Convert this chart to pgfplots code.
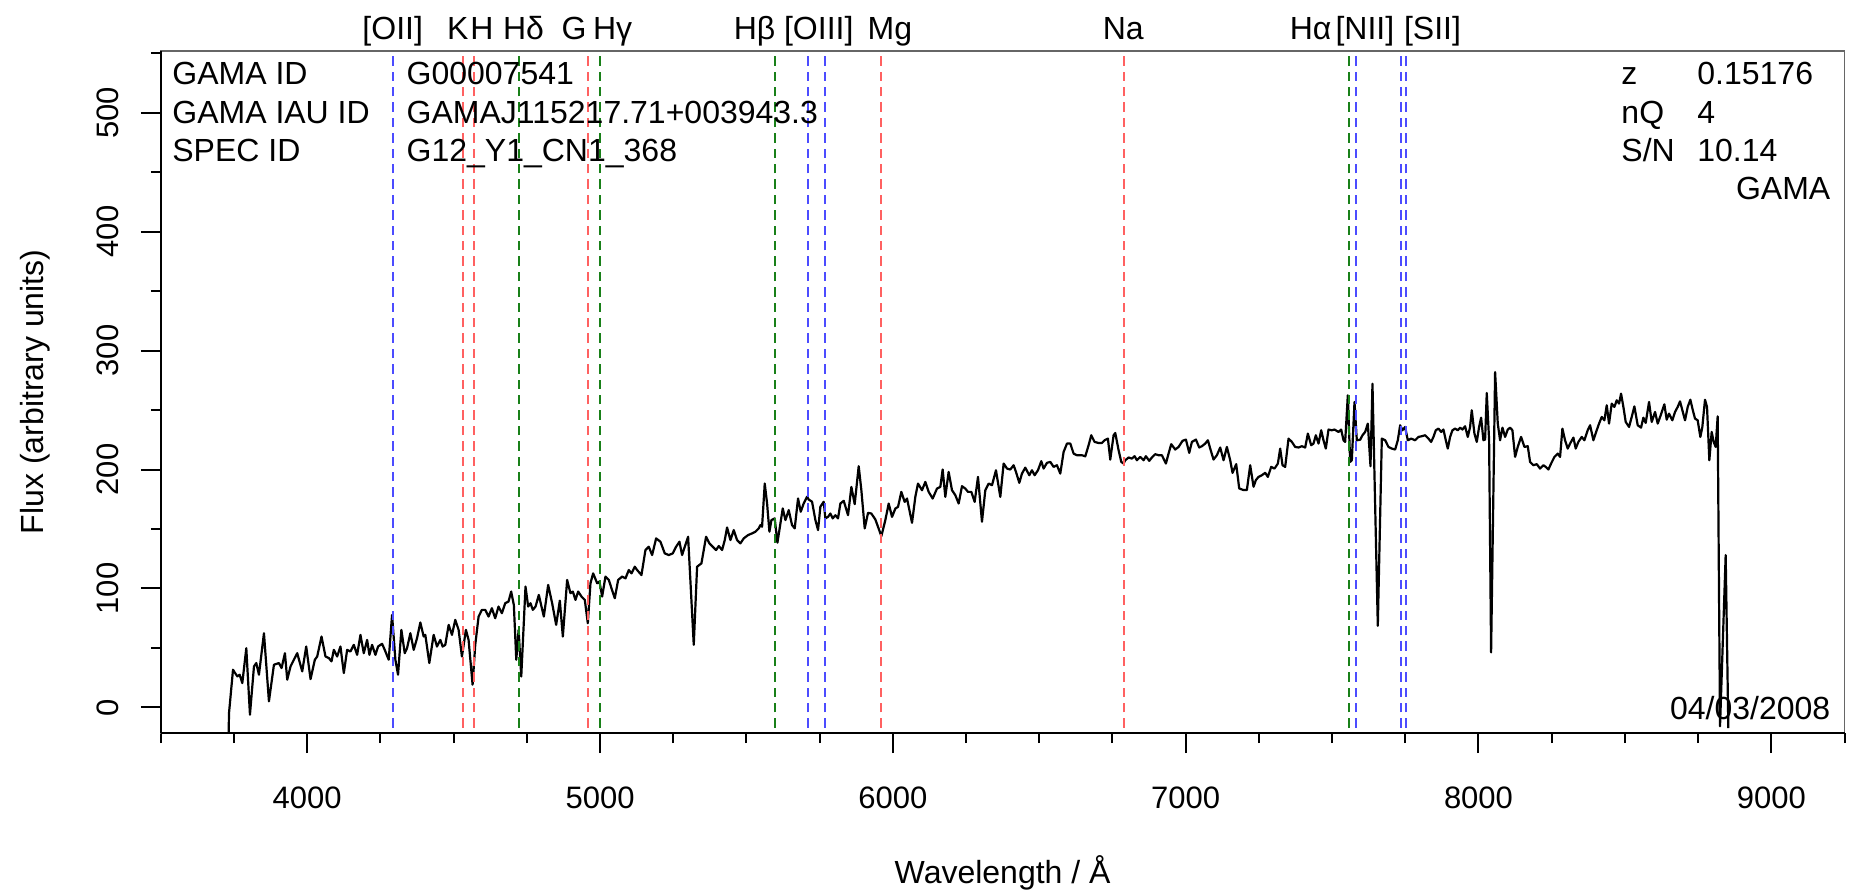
\documentclass[border=0pt]{standalone}
\usepackage{fontspec}
\setmainfont{Liberation Sans}
\usepackage{pgfplots}
\pgfplotsset{compat=1.18}
\usepackage{pgfplotstable}

\definecolor{lred}{rgb}{1,0.38,0.38}
\definecolor{lblue}{rgb}{0.3,0.3,1}
\definecolor{lgreen}{rgb}{0.1,0.5,0.1}
\definecolor{framegray}{rgb}{0.4,0.4,0.4}

\pgfplotstableread{
lam flux
3731 -30
3733 -4.7
3746.6 31.7
3750 30.3
3761.4 26.1
3769.3 27.5
3778.4 20.5
3792 49.8
3804.5 -6.1
3818.2 34.5
3826.1 37.3
3835.2 27.5
3852.3 62.4
3869.3 5.1
3886.4 35.9
3903.4 37.3
3912.5 33.1
3923.9 45.6
3931.8 23.3
3943.2 34.5
3954.5 40.1
3965.9 45.6
3983 30.3
3996.6 51.2
4011.4 23.8
4026.1 40.1
4034.1 42.8
4048.9 59.6
4062.5 42.8
4073.9 41.5
4083 38.7
4090.9 48.4
4102.3 42.8
4113.6 51.2
4125 28.9
4136.4 48.4
4147.7 47.0
4159.1 52.6
4170.5 44.2
4181.8 61.0
4193.2 45.6
4204.6 56.8
4212.5 44.2
4221.6 52.6
4233 44.2
4242 51.2
4255.7 53.5
4264.8 48.4
4278.4 40.1
4289.8 77.8
4301.1 40.1
4310.2 27.5
4321.6 65.2
4333 45.6
4340.9 49.8
4352.3 62.4
4363.7 48.4
4375 58.2
4386.4 71.4
4397.7 59.6
4403.4 61.0
4417 37.3
4431.8 61.0
4443.2 51.2
4454.6 56.8
4462.5 51.2
4471.6 52.6
4483 69.4
4494.3 61.0
4505.7 73.6
4517.1 65.2
4528.4 42.8
4542 65.2
4551.1 56.8
4564.8 19.1
4573.9 52.6
4585.3 76.4
4596.6 82.0
4608 82.0
4619.3 76.4
4630.7 83.4
4642 75.0
4653.4 84.8
4664.8 79.2
4676.1 87.6
4687.5 89.0
4696.6 97.4
4705.7 86.2
4714 40.1
4722 65.2
4731 26
4745.5 101.6
4754.6 84.8
4762.6 87.6
4770.5 82.0
4779.8 84.8
4791 94.6
4800.1 84.8
4808.1 76.4
4822.9 103.0
4836.5 87.6
4850.2 69.4
4862.7 89.8
4873 59.6
4887.7 107.2
4899.1 96.0
4907.1 97.4
4916.2 90.4
4925.3 97.4
4936.7 93.2
4948 90.4
4958.3 70.8
4967.4 104.4
4976.5 112.7
4990.2 104.4
4998.1 105.8
5007.2 93.2
5018.6 110.0
5030 107.2
5039.1 100.2
5050.5 91.8
5061.9 107.2
5075.5 110.0
5086.9 108.5
5098.3 115.5
5107.4 112.7
5118.7 118.3
5126.7 115.5
5141.5 111.3
5155.1 132.3
5166.5 135.1
5177.9 128.1
5191.6 142.1
5206.3 139.3
5221.1 129.5
5234.8 128.1
5248.5 129.5
5259.8 135.1
5271.2 139.3
5280.3 128.1
5289.4 135.1
5300.8 143.5
5320.1 52.6
5331.5 118.3
5346.3 121.1
5362.2 143.5
5373.6 137.9
5385 135.1
5396.4 132.3
5405.5 135.7
5416.9 132.3
5426 140.7
5433.9 151.3
5445.3 140.7
5456.7 149.1
5468.1 140.7
5479.4 137.9
5490.8 142.1
5505.6 144.9
5519.3 146.3
5530.6 147.7
5542 150.5
5547.7 153.3
5553.4 151.9
5562.5 188.2
5570.5 171.5
5578.5 147.7
5585.3 157.5
5596.6 158.9
5605.8 138.5
5612.6 149.1
5624 167.3
5633.1 157.5
5644.4 165.9
5655.8 153.3
5664.9 150.5
5676.3 175.7
5685.4 164.5
5695.6 171.5
5707 177.1
5712.7 174.8
5724.1 172.9
5735.5 157.5
5744.6 149.1
5752.5 168.7
5763.9 172.9
5769.6 158.9
5778.7 160.2
5786.7 163.0
5794.6 158.9
5803.7 161.6
5812.8 158.9
5820.8 171.4
5832.2 173.7
5847 161.6
5858.4 185.4
5869.7 170.9
5883.4 202.8
5892.5 182.6
5903.9 150.5
5915.3 163.6
5926.6 163.0
5940.3 158.0
5960.8 144.0
5974.4 157.5
5985.8 171.4
5997.2 160.2
6008.6 167.2
6017.7 168.6
6029 181.2
6040.4 172.8
6048.4 175.6
6065.5 155.2
6076.8 177.0
6085.9 188.2
6099.6 182.6
6111 189.6
6122.4 181.2
6136 175.6
6150.8 184.0
6162.2 185.4
6170.1 200.0
6179.2 177.0
6190.6 198.0
6202 182.6
6213.4 178.4
6224.8 171.4
6236.1 186.0
6247.5 184.0
6256.6 181.2
6268 181.2
6279.4 172.8
6290.8 193.8
6304.4 156.1
6315.8 182.6
6327.2 188.2
6338.6 186.8
6352.2 199.4
6367 177.0
6378.4 205.0
6389.8 200.8
6401.1 200.0
6412.5 203.6
6420.5 198.0
6431.9 188.8
6441 196.6
6452.3 201.6
6466 195.2
6475.1 199.4
6484.2 195.2
6495.6 199.4
6507 207.0
6514.9 200.8
6526.3 205.6
6537.7 206.4
6549.1 202.2
6560.4 203.6
6571.8 196.6
6583.2 214.8
6594.6 221.8
6606 221.8
6617.3 213.4
6628.7 212.0
6645.8 212.0
6657.2 211.1
6668.5 220.4
6677.6 228.8
6689 223.2
6702.7 222.3
6714.1 222.3
6723.2 224.6
6734.5 226.0
6742.5 208.3
6753.9 228.8
6759.6 230.7
6771 216.2
6780.1 206.4
6788 205.0
6793.7 207.8
6805.1 210.1
6816.5 209.2
6825.6 211.2
6833.5 207.8
6844.9 210.6
6856.3 207.8
6864.2 211.2
6875.6 207.3
6884.7 210.1
6896.1 212.9
6907.5 212.0
6918.9 212.0
6932.5 205.0
6941.6 213.4
6950.7 221.3
6964.4 216.8
6975.8 219.0
6989.4 224.1
7000.8 225.2
7012.2 214.0
7021.3 223.2
7035 225.2
7046.3 218.5
7055.4 219.6
7066.8 221.8
7075.9 224.6
7083.9 217.6
7095.2 208.4
7106.6 212.0
7118 218.5
7129.4 207.8
7140.8 219.0
7152.1 207.8
7160.1 197.2
7172.6 204.5
7182.9 184.1
7197.6 182.7
7209 182.7
7220.4 203.6
7231.8 185.5
7239.8 191.1
7248.9 193.8
7260.2 195.2
7271.6 197.2
7280.7 193.8
7292.1 202.2
7303.5 200.8
7314.9 205.0
7322.8 217.6
7330.8 203.6
7339.9 202.2
7351.3 226.0
7362.7 223.2
7374 219.0
7385.4 218.5
7396.8 219.6
7408.2 218.5
7417.3 230.2
7428.7 220.4
7436.6 221.8
7444.6 228.8
7453.7 221.8
7462.8 233.0
7470.7 224.6
7478.7 217.6
7487.8 233.6
7499.2 233.0
7508.3 233.6
7522 231.6
7531.1 233.6
7539 224.6
7544.7 223.2
7553.8 262.4
7561.8 206.4
7567.5 207.8
7576.6 256.8
7584.5 224.6
7595.9 225.0
7603.9 228.8
7613 231.6
7622.1 238.6
7631.2 202.8
7638 272.1
7656.2 68.6
7669.9 226.0
7681.3 224.6
7692.6 219.0
7704 217.6
7715.4 216.8
7724.5 224.6
7732.5 237.2
7740.4 233.0
7749.5 235.8
7758.6 224.6
7770 226.0
7783.7 224.6
7795.1 227.4
7806.4 228.0
7817.8 228.8
7829.2 226.0
7838.3 223.2
7846.2 227.4
7854.2 233.0
7863.3 234.4
7872.4 231.6
7880.4 233.6
7888.4 224.6
7895.2 217.6
7903.1 227.4
7911.1 233.0
7920.2 234.4
7929.3 233.0
7937.3 235.2
7945.2 233.6
7954.3 236.4
7963.5 227.4
7971.4 235.8
7977.1 249.8
7986.2 230.2
7994.2 223.2
8002.1 235.8
8009 243.6
8016.9 224.6
8022.6 225.2
8028.3 264.3
8036.3 224.6
8043.1 46.2
8056.8 281.9
8065.9 238.6
8073.8 224.6
8081.8 235.2
8090.9 227.4
8100 233.6
8108 235.2
8115.9 233.0
8125.1 210.6
8134.1 219.0
8145.5 227.4
8156.9 219.0
8168.3 219.6
8176.2 206.4
8187.6 203.6
8199 204.5
8210.4 200.8
8221.8 203.6
8229.7 202.2
8238.8 200.0
8247.9 205.0
8259.3 210.6
8270.7 213.4
8278.7 210.6
8286.6 234.4
8295.7 224.6
8304.8 217.6
8312.8 221.8
8324.2 226.8
8332.1 217.6
8341.2 223.2
8352.6 227.4
8361.7 224.6
8373.1 233.0
8381.1 237.2
8392.5 224.6
8403.8 233.0
8411.8 238.6
8420.9 244.2
8430 241.4
8438 254.0
8445.9 238.6
8455 255.4
8464.2 252.6
8472.1 258.2
8480.1 255.4
8486.9 263.8
8494.9 252.6
8502.8 240.0
8514.2 235.8
8523.3 244.2
8532.4 253.1
8543.8 237.2
8555.2 235.2
8563.1 243.6
8571.1 239.2
8582.5 256.8
8591.6 240.0
8603 248.4
8612.1 238.6
8623.4 246.4
8634.8 254.8
8642.8 241.9
8650.7 247.0
8662.1 241.4
8671.2 248.4
8680.3 252.6
8688.3 257.3
8696.3 249.8
8705.4 241.4
8714.5 252.6
8723.6 258.7
8731.5 250.3
8739.5 242.8
8748.6 241.4
8757.7 227.4
8764.5 235.8
8773.6 258.7
8780.5 252.6
8788.4 207.8
8796.4 231.6
8803.2 223.2
8810.1 219.0
8816.9 244.7
8824.9 -15.9
8844.2 128.1
8853.3 -17.3
}\spec

\begin{document}
\fontsize{16}{19}\selectfont
\begin{tikzpicture}
\useasboundingbox (-80.4pt,-79pt) rectangle (846.6pt,366.5pt);
\begin{axis}[
  at={(0pt,0pt)}, anchor=south west,
  scale only axis, width=841.85pt, height=341.1pt,
  xmin=3500, xmax=9250, ymin=-21.5, ymax=552,
  clip mode=individual,
  axis line style={line width=0.9pt, framegray},
  xtick={4000,5000,...,9000},
  minor xtick={3500,3750,...,9250},
  ytick={0,100,...,500},
  minor ytick={0,50,...,550},
  xtick pos=bottom, ytick pos=left,
  tick align=outside,
  major tick length=10pt, minor tick length=5pt,
  tick style={black, line width=1pt},
  /pgf/number format/1000 sep={},
  /pgf/number format/assume math mode=true,
  tick label style={font=\fontsize{15.5}{18}\selectfont},
  xticklabel style={anchor=base, yshift=-27.6pt},
  yticklabel style={xshift=-11.25pt, rotate=90, anchor=base},
  xlabel={Wavelength / Å},
  ylabel={Flux (arbitrary units)},
  every axis x label/.style={at={(axis description cs:0.5,-0.2205)}, anchor=base},
  every axis y label/.style={at={(axis description cs:-0.0696,0.5)}, rotate=90, anchor=base},
  markline/.style={line width=1pt, dash pattern=on 4.7pt off 3pt},
]
\addplot[black, line width=1.1pt, line join=round] table[x=lam, y=flux]{\spec};

% spectral line markers
\addplot[markline, lblue] coordinates {(4292.6,-30) (4292.6,600)};
\addplot[markline, lred] coordinates {(4530.7,-30) (4530.7,600)};
\addplot[markline, lred] coordinates {(4570.8,-30) (4570.8,600)};
\addplot[markline, lgreen] coordinates {(4724.2,-30) (4724.2,600)};
\addplot[markline, lred] coordinates {(4957.6,-30) (4957.6,600)};
\addplot[markline, lgreen] coordinates {(4999.2,-30) (4999.2,600)};
\addplot[markline, lgreen] coordinates {(5599.1,-30) (5599.1,600)};
\addplot[markline, lblue] coordinates {(5711.6,-30) (5711.6,600)};
\addplot[markline, lblue] coordinates {(5766.9,-30) (5766.9,600)};
\addplot[markline, lred] coordinates {(5960.4,-30) (5960.4,600)};
\addplot[markline, lred] coordinates {(6788.5,-30) (6788.5,600)};
\addplot[markline, lgreen] coordinates {(7559.0,-30) (7559.0,600)};
\addplot[markline, lblue] coordinates {(7583.2,-30) (7583.2,600)};
\addplot[markline, lblue] coordinates {(7736.4,-30) (7736.4,600)};
\addplot[markline, lblue] coordinates {(7752.5,-30) (7752.5,600)};

% frame lines in black
\draw[black, line width=1.3pt] (rel axis cs:0,0) -- (rel axis cs:1,0);
\draw[black, line width=1pt] (rel axis cs:0,0) -- (rel axis cs:0,1);

% line labels
\foreach \lam/\lab in {4292/{[OII]}, 4514/K, 4597/H, 4739/{Hδ}, 4911/G, 5043/{Hγ}, 5528/{Hβ}, 5747/{[OIII]}, 5990/Mg, 6787/Na, 7427/{Hα}, 7612/{[NII]}, 7843/{[SII]}}{
  \edef\tmp{\noexpand\node[anchor=base, inner sep=0pt] at (axis cs:\lam,561.9) {\unexpanded\expandafter{\lab}};}
  \tmp
}

% info text
\node[anchor=base west, inner sep=0pt] at (rel axis cs:0.00665,0.9499) {GAMA ID};
\node[anchor=base west, inner sep=0pt] at (rel axis cs:0.00665,0.8937) {GAMA IAU ID};
\node[anchor=base west, inner sep=0pt] at (rel axis cs:0.00665,0.8376) {SPEC ID};
\node[anchor=base west, inner sep=0pt] at (rel axis cs:0.1458,0.9499) {G00007541};
\node[anchor=base west, inner sep=0pt] at (rel axis cs:0.1458,0.8937) {GAMAJ115217.71+003943.3};
\node[anchor=base west, inner sep=0pt] at (rel axis cs:0.1458,0.8376) {G12\_Y1\_CN1\_368};
\node[anchor=base west, inner sep=0pt] at (rel axis cs:0.8673,0.9499) {z};
\node[anchor=base west, inner sep=0pt] at (rel axis cs:0.8673,0.8937) {nQ};
\node[anchor=base west, inner sep=0pt] at (rel axis cs:0.8673,0.8376) {S/N};
\node[anchor=base west, inner sep=0pt] at (rel axis cs:0.9124,0.9499) {0.15176};
\node[anchor=base west, inner sep=0pt] at (rel axis cs:0.9124,0.8937) {4};
\node[anchor=base west, inner sep=0pt] at (rel axis cs:0.9124,0.8376) {10.14};
\node[anchor=base east, inner sep=0pt] at (rel axis cs:0.9918,0.7813) {GAMA};
\node[anchor=base east, inner sep=0pt] at (rel axis cs:0.9918,0.0191) {04/03/2008};
\end{axis}
\end{tikzpicture}
\end{document}
